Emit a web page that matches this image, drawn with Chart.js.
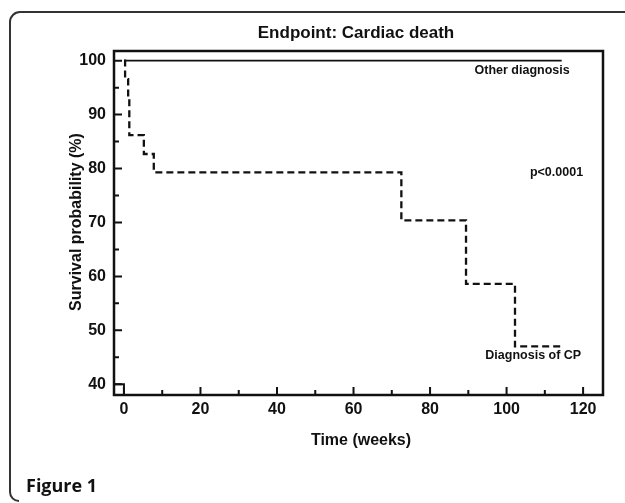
<!DOCTYPE html>
<html>
<head>
<meta charset="utf-8">
<script src="https://cdn.jsdelivr.net/npm/chart.js@4.4.1/dist/chart.umd.min.js"></script>
<style>
  html, body { margin: 0; padding: 0; background: #fff; }
  canvas { display: block; }
</style>
</head>
<body>
<canvas id="km" width="625" height="503"></canvas>
<script>
// Kaplan-Meier: endpoint cardiac death
var cpTime = [0, 0.3, 1.1, 1.4, 5.2, 7.8, 72.5, 89.4, 102.2, 114.4];
var cpSurv = [100, 96.6, 93.1, 86.2, 82.7, 79.3, 70.4, 58.6, 47.0, 47.0];
var otherTime = [0, 114.4];
var otherSurv = [100, 100];
var originTime = [-2.6, 0, 0];
var originSurv = [40, 40, 38];
var xTicks = [0, 20, 40, 60, 80, 100, 120];
var xMinor = [10, 30, 50, 70, 90, 110];
var yTicks = [40, 50, 60, 70, 80, 90, 100];
var yMinor = [45, 55, 65, 75, 85, 95];

function pts(xs, ys) {
    return xs.map(function (x, i) { return {x: x, y: ys[i]}; });
}

var FONT = "'Liberation Sans', Arial, sans-serif";

// frame, inside ticks, texts
var decor = {
    id: 'decor',
    afterDraw: function (chart) {
        var ctx = chart.ctx;
        var a = chart.chartArea;
        var xs = chart.scales.x, ys = chart.scales.y;
        ctx.save();

        // panel border (rounded, open to the right/bottom)
        ctx.strokeStyle = '#333';
        ctx.lineWidth = 2;
        ctx.beginPath();
        ctx.moveTo(625, 12);
        ctx.lineTo(20, 12);
        ctx.arcTo(10, 12, 10, 22, 10);
        ctx.lineTo(10, 492);
        ctx.arcTo(10, 501, 18, 501, 9);
        ctx.stroke();

        // plot frame
        ctx.strokeStyle = '#111';
        ctx.lineWidth = 2.5;
        ctx.strokeRect(a.left, a.top, a.right - a.left, a.bottom - a.top);

        // tick marks pointing inward
        ctx.lineWidth = 2;
        ctx.beginPath();
        xTicks.forEach(function (v) {
            var p = xs.getPixelForValue(v);
            ctx.moveTo(p, a.bottom); ctx.lineTo(p, a.bottom - 8);
        });
        xMinor.forEach(function (v) {
            var p = xs.getPixelForValue(v);
            ctx.moveTo(p, a.bottom); ctx.lineTo(p, a.bottom - 5);
        });
        yTicks.forEach(function (v) {
            var p = ys.getPixelForValue(v);
            ctx.moveTo(a.left, p); ctx.lineTo(a.left + 8, p);
        });
        yMinor.forEach(function (v) {
            var p = ys.getPixelForValue(v);
            ctx.moveTo(a.left, p); ctx.lineTo(a.left + 5, p);
        });
        ctx.stroke();

        // texts
        ctx.fillStyle = '#111';
        ctx.textBaseline = 'middle';
        ctx.textAlign = 'center';
        ctx.font = 'bold 17px ' + FONT;
        ctx.fillText('Endpoint: Cardiac death', 356, 33);

        ctx.font = 'bold 16px ' + FONT;
        ctx.fillText('Time (weeks)', 361, 441);
        ctx.save();
        ctx.translate(77, 222);
        ctx.rotate(-Math.PI / 2);
        ctx.fillText('Survival probability (%)', 0, 0);
        ctx.restore();

        ctx.textAlign = 'right';
        ctx.font = 'bold 12.5px ' + FONT;
        ctx.fillText('Other diagnosis', xs.getPixelForValue(116.5), ys.getPixelForValue(98.2));
        ctx.fillText('p<0.0001', xs.getPixelForValue(120), ys.getPixelForValue(79.3));
        ctx.fillText('Diagnosis of CP', xs.getPixelForValue(119.5), ys.getPixelForValue(45.3));

        ctx.textAlign = 'left';
        ctx.font = 'bold 18px "Open Sans", sans-serif';
        ctx.fillText('Figure 1', 26, 487);
        ctx.restore();
    }
};

var km = document.getElementById('km');
var kmChart = new Chart(km, {
    type: 'scatter',
    data: {
        datasets: [{
            label: 'Other diagnosis',
            data: pts(otherTime, otherSurv),
            showLine: true,
            borderColor: '#111',
            borderWidth: 1.8,
            pointRadius: 0
        }, {
            label: 'Diagnosis of CP',
            data: pts(cpTime, cpSurv),
            showLine: true,
            stepped: true,
            borderColor: '#111',
            borderWidth: 2.3,
            borderDash: [7, 4],
            pointRadius: 0
        }, {
            label: 'origin',
            data: pts(originTime, originSurv),
            showLine: true,
            borderColor: '#111',
            borderWidth: 2,
            pointRadius: 0
        }]
    },
    options: {
        responsive: false,
        animation: false,
        layout: { padding: { top: 51, right: 22, left: 0, bottom: 0 } },
        plugins: {
            legend: { display: false },
            title: { display: false },
            tooltip: { enabled: false }
        },
        scales: {
            x: {
                type: 'linear',
                min: -2.6,
                max: 125.2,
                afterFit: function (s) { s.height = 108; },
                afterBuildTicks: function (s) { s.ticks = xTicks.map(function (v) { return {value: v}; }); },
                grid: { display: false, drawTicks: false },
                border: { display: false },
                ticks: {
                    padding: 5,
                    color: '#111',
                    font: { family: FONT, size: 16, weight: 'bold' }
                }
            },
            y: {
                type: 'linear',
                min: 38,
                max: 101.8,
                afterFit: function (s) { s.width = 114; },
                afterBuildTicks: function (s) { s.ticks = yTicks.map(function (v) { return {value: v}; }); },
                grid: { display: false, drawTicks: false },
                border: { display: false },
                ticks: {
                    padding: 8,
                    color: '#111',
                    font: { family: FONT, size: 16, weight: 'bold' }
                }
            }
        }
    },
    plugins: [decor]
});
</script>
</body>
</html>
